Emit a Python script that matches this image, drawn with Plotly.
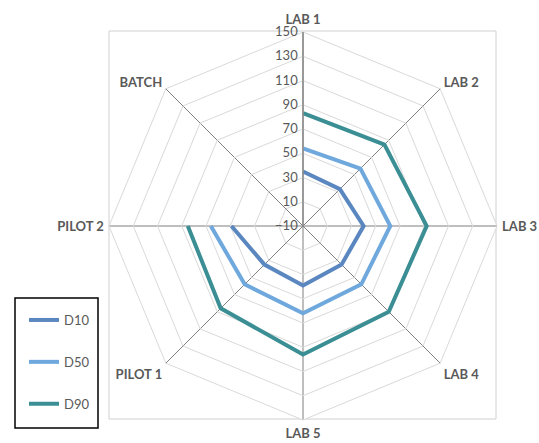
import plotly.graph_objects as go

# Axes of the radar, clockwise from the top
categories = ["LAB 1", "LAB 2", "LAB 3", "LAB 4", "LAB 5", "PILOT 1", "PILOT 2", "BATCH"]

# Particle-size distribution values per site (BATCH not measured)
d10 = [35, 33, 40, 35, 39, 35, 49, None]
d50 = [54, 57, 62, 58, 62, 58, 66, None]
d90 = [83, 85, 92, 90, 96, 86, 85, None]

radial_ticks = [-10, 10, 30, 50, 70, 90, 110, 130, 150]

series = [
    ("D10", d10, "#5B87C1"),
    ("D50", d50, "#6FA8DC"),
    ("D90", d90, "#3B8F94"),
]

fig = go.Figure()
for name, vals, color in series:
    fig.add_trace(go.Scatterpolar(
        r=vals,
        theta=categories,
        mode="lines",
        name=name,
        legendgroup=name,
        line=dict(color=color, width=4),
        connectgaps=False,
    ))

fig.update_layout(
    width=539,
    height=443,
    margin=dict(l=0, r=0, t=0, b=0),
    paper_bgcolor="white",
    plot_bgcolor="white",
    font=dict(family="Lato, Carlito, Calibri, sans-serif", color="#595959"),
    polar=dict(
        domain=dict(x=[109 / 539, 497 / 539], y=[1 - 420 / 443, 1 - 32 / 443]),
        bgcolor="white",
        gridshape="linear",
        radialaxis=dict(
            range=[-10, 150],
            tickvals=radial_ticks,
            angle=90,
            tickangle=90,
            side="counterclockwise",
            showline=True,
            linecolor="#8C8C8C",
            linewidth=1.5,
            gridcolor="#D9D9D9",
            gridwidth=1,
            ticks="",
            tickfont=dict(size=13, color="#595959"),
        ),
        angularaxis=dict(
            direction="clockwise",
            rotation=90,
            showline=True,
            linecolor="#D9D9D9",
            linewidth=1,
            gridcolor="#7F7F7F",
            gridwidth=1,
            ticks="outside",
            ticklen=2,
            tickcolor="rgba(0,0,0,0)",
            tickfont=dict(size=13, color="#595959", family="Lato, sans-serif", weight="bold"),
        ),
    ),
    showlegend=True,
    legend=dict(
        x=24 / 539,
        y=1 - 305 / 443,
        xanchor="left",
        yanchor="top",
        borderwidth=0,
        bgcolor="rgba(0,0,0,0)",
        itemwidth=30,
        tracegroupgap=22,
        font=dict(size=13, color="#595959"),
    ),
    shapes=[
        dict(
            type="rect",
            xref="paper",
            yref="paper",
            x0=109 / 539,
            x1=496 / 539,
            y0=1 - 419 / 443,
            y1=1 - 31 / 443,
            line=dict(color="#D0D0D0", width=1),
            layer="below",
        ),
        dict(
            type="rect",
            xref="paper",
            yref="paper",
            x0=15 / 539,
            x1=98 / 539,
            y0=1 - 428 / 443,
            y1=1 - 298 / 443,
            line=dict(color="black", width=1.5),
            layer="below",
        ),
    ],
)

fig.write_html("out.html")
